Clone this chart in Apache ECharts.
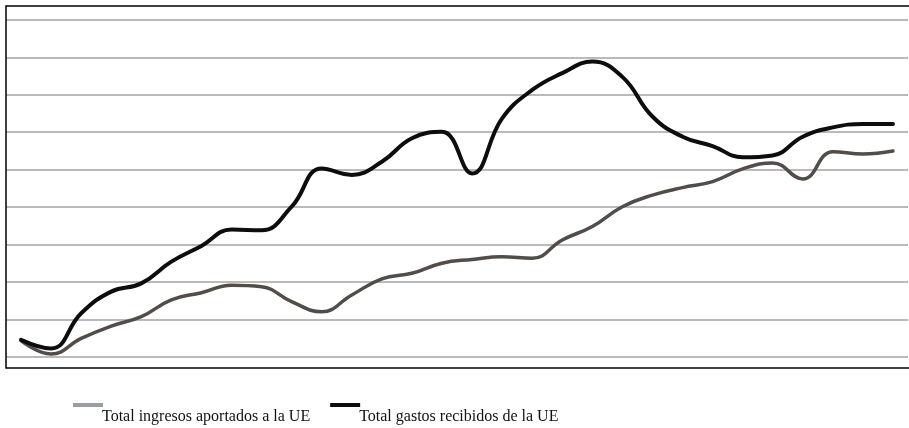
<!DOCTYPE html>
<html>
<head>
<meta charset="utf-8">
<script src="https://cdn.jsdelivr.net/npm/echarts@6/dist/echarts.min.js"></script>
<style>
html,body{margin:0;padding:0;background:#fff;}
#chart{width:909px;height:428px;}
</style>
</head>
<body>
<div id="chart"></div>
<script>
const categories = ["1986","1987","1988","1989","1990","1991","1992","1993","1994","1995","1996","1997","1998","1999","2000","2001","2002","2003","2004","2005","2006","2007","2008","2009","2010","2011","2012","2013","2014","2015"];
const seriesNames = ["Total ingresos aportados a la UE", "Total gastos recibidos de la UE"];
const ingresos = [0.43,0.07,0.49,0.82,1.07,1.52,1.71,1.91,1.87,1.47,1.20,1.65,2.08,2.23,2.50,2.60,2.67,2.63,3.12,3.48,4.01,4.32,4.52,4.68,5.02,5.18,4.75,5.48,5.42,5.50];
const gastos = [0.45,0.22,1.16,1.74,1.96,2.54,2.96,3.40,3.38,4.01,5.03,4.86,5.21,5.84,6.01,4.90,6.37,7.13,7.58,7.89,7.48,6.42,5.88,5.63,5.33,5.38,5.88,6.13,6.22,6.22];

const chart = echarts.init(document.getElementById('chart'));
const iconPath = 'path://M0,0H30V4H0Z M0,27.99H0.01V28H0Z';
chart.setOption({
  animation: false,
  backgroundColor: '#ffffff',
  grid: { left: 6, right: 1, top: 20, bottom: 71.3 },
  xAxis: {
    type: 'category', data: categories, boundaryGap: true,
    axisLine: {show: false}, axisTick: {show: false}, axisLabel: {show: false}, splitLine: {show: false}
  },
  yAxis: {
    type: 'value', min: 0, max: 9, interval: 1,
    axisLine: {show: false}, axisTick: {show: false}, axisLabel: {show: false},
    splitLine: {show: true, lineStyle: {color: '#a3a3a3', width: 1.6}}
  },
  legend: {
    left: 68, top: 398,
    icon: iconPath,
    itemWidth: 30, itemHeight: 28, itemGap: 20,
    lineStyle: {width: 0},
    itemStyle: {borderWidth: 0},
    textStyle: {fontFamily: 'Liberation Serif', fontSize: 16, color: '#111', padding: [0, 0, 0, -6]},
    data: [
      {name: seriesNames[0], itemStyle: {color: '#9a9ea2'}},
      {name: seriesNames[1], itemStyle: {color: '#0d0d0f'}}
    ]
  },
  graphic: [{
    type: 'rect', z: 100, silent: true,
    shape: {x: 6, y: 6, width: 910, height: 362},
    style: {fill: 'none', stroke: '#000', lineWidth: 1.5}
  }],
  series: [
    {name: seriesNames[0], type: 'line', data: ingresos, smooth: 0.45, showSymbol: false,
     lineStyle: {color: '#524d4b', width: 3.5, cap: 'round'}, itemStyle: {color: '#524d4b'}},
    {name: seriesNames[1], type: 'line', data: gastos, smooth: 0.45, showSymbol: false,
     lineStyle: {color: '#0d0d0f', width: 4, cap: 'round'}, itemStyle: {color: '#0d0d0f'}}
  ]
});
</script>
</body>
</html>
